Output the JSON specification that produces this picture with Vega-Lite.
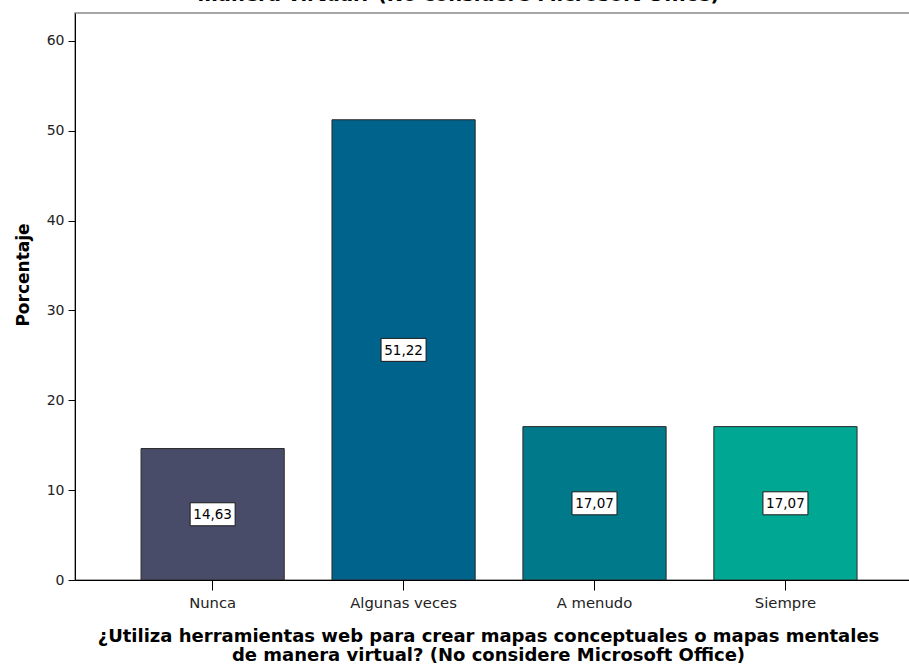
{
  "$schema": "https://vega.github.io/schema/vega-lite/v6.json",
  "autosize": {"type": "none"},
  "width": 835,
  "height": 567,
  "padding": {"left": 75, "top": 13, "right": 0, "bottom": 90},
  "background": "white",
  "config": {
    "font": "DejaVu Sans",
    "locale": {"number": {"decimal": ",", "thousands": ".", "grouping": [3], "currency": ["", " €"]}},
    "view": {"stroke": "#8a8a8a", "strokeWidth": 1.5}
  },
  "title": {
    "text": ["¿Utiliza herramientas web para crear mapas conceptuales o mapas mentales de", "manera virtual? (No considere Microsoft Office)"],
    "anchor": "middle",
    "dx": -34,
    "offset": 8,
    "font": "DejaVu Sans",
    "fontSize": 19.5,
    "fontWeight": "bold",
    "color": "#000000",
    "lineHeight": 19
  },
  "data": {
    "values": [
      {"categoria": "Nunca", "porcentaje": 14.63},
      {"categoria": "Algunas veces", "porcentaje": 51.22},
      {"categoria": "A menudo", "porcentaje": 17.07},
      {"categoria": "Siempre", "porcentaje": 17.07}
    ]
  },
  "encoding": {
    "x": {
      "field": "categoria",
      "type": "nominal",
      "sort": ["Nunca", "Algunas veces", "A menudo", "Siempre"],
      "scale": {"paddingInner": 0.25, "paddingOuter": 0.3116, "align": 0.555},
      "axis": {
        "title": ["¿Utiliza herramientas web para crear mapas conceptuales o mapas mentales", "de manera virtual? (No considere Microsoft Office)"],
        "titleFont": "DejaVu Sans",
        "titleFontSize": 18,
        "titleFontWeight": "bold",
        "titleColor": "#000000",
        "titleLineHeight": 18.5,
        "titlePadding": 18,
        "titleAnchor": "middle",
        "titleX": 413,
        "labelAngle": 0,
        "labelFont": "DejaVu Sans",
        "labelFontSize": 14.8,
        "labelColor": "#222222",
        "labelPadding": 5,
        "tickSize": 10,
        "tickColor": "#000000",
        "domainColor": "#000000",
        "grid": false,
        "zindex": 1
      }
    }
  },
  "layer": [
    {
      "mark": {"type": "bar", "stroke": "#2a2a2a", "strokeWidth": 1},
      "encoding": {
        "y": {
          "field": "porcentaje",
          "type": "quantitative",
          "scale": {"domain": [0, 63.1], "nice": false},
          "axis": {
            "title": "Porcentaje",
            "titleFont": "DejaVu Sans",
            "titleFontSize": 17,
            "titleFontWeight": "bold",
            "titleColor": "#000000",
            "titlePadding": 14,
            "titleY": 261.5,
            "values": [0, 10, 20, 30, 40, 50, 60],
            "labelFont": "DejaVu Sans",
            "labelFontSize": 14,
            "labelColor": "#222222",
            "labelPadding": 4,
            "tickSize": 7,
            "tickColor": "#000000",
            "domainColor": "#000000",
            "grid": false,
            "zindex": 1
          }
        },
        "color": {
          "field": "categoria",
          "type": "nominal",
          "scale": {
            "domain": ["Nunca", "Algunas veces", "A menudo", "Siempre"],
            "range": ["#484c69", "#00638c", "#007a8a", "#00a894"]
          },
          "legend": null
        }
      }
    },
    {
      "transform": [{"calculate": "datum.porcentaje / 2", "as": "mitad"}],
      "mark": {
        "type": "point",
        "shape": "M-1,-0.511H1V0.511H-1Z",
        "size": 2025,
        "filled": true,
        "fill": "white",
        "stroke": "#1a1a1a",
        "strokeWidth": 1,
        "opacity": 1
      },
      "encoding": {
        "y": {"field": "mitad", "type": "quantitative"}
      }
    },
    {
      "transform": [{"calculate": "datum.porcentaje / 2", "as": "mitad"}],
      "mark": {"type": "text", "font": "DejaVu Sans", "fontSize": 13.5, "color": "#000000", "baseline": "middle", "align": "center", "dy": 1},
      "encoding": {
        "y": {"field": "mitad", "type": "quantitative"},
        "text": {"field": "porcentaje", "type": "quantitative", "format": ".2f"}
      }
    }
  ]
}
